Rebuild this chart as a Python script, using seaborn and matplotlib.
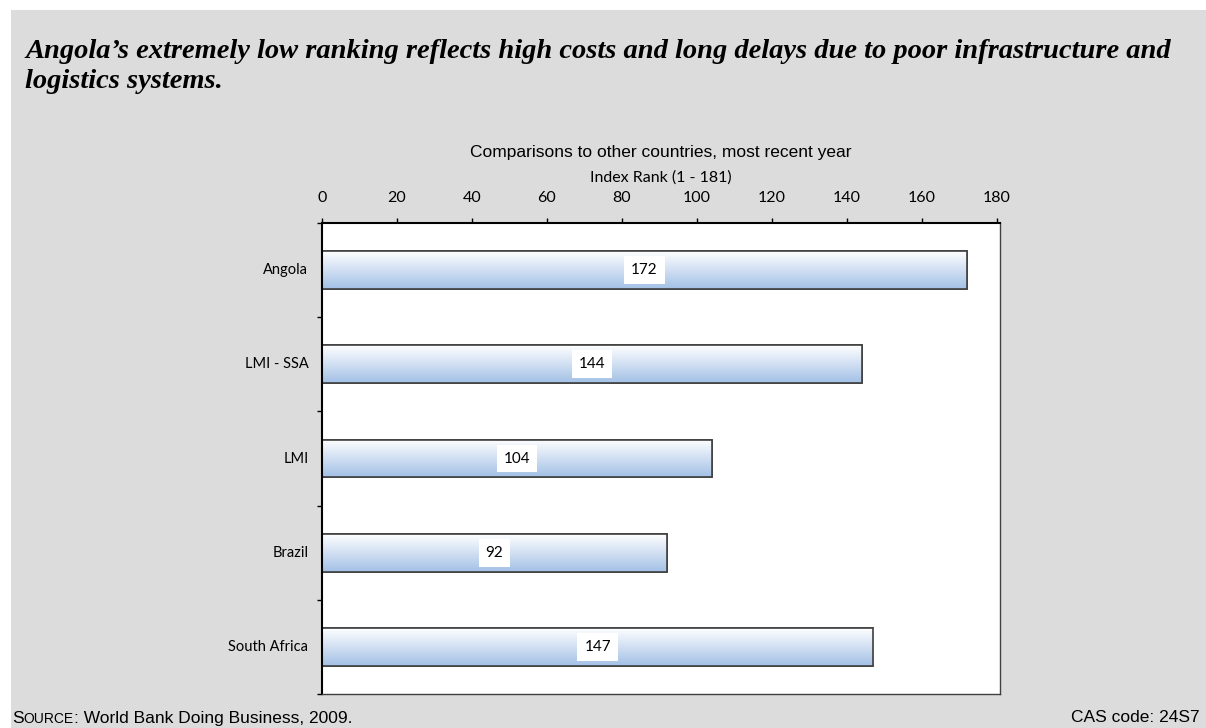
import numpy as np
import pandas as pd
import matplotlib
matplotlib.use("Agg")
import matplotlib.pyplot as plt
import seaborn as sns
from matplotlib.colors import LinearSegmentedColormap

# Chart data
countries = ["Angola", "LMI - SSA", "LMI", "Brazil", "South Africa"]
ranks = [172, 144, 104, 92, 147]
x_ticks = [0, 20, 40, 60, 80, 100, 120, 140, 160, 180]

title = ("Angola\u2019s extremely low ranking reflects high costs and long delays due to poor infrastructure and\n"
         "logistics systems.")
subtitle = "Comparisons to other countries, most recent year"
axis_label = "Index Rank (1 - 181)"
source_text = ": World Bank Doing Business, 2009."
code_text = "CAS code: 24S7"

BG = "#DCDCDC"
TICK_FONT = "Lato"

df = pd.DataFrame({"country": countries, "rank": ranks})


def main():
    sns.set_style("white")
    # seaborn greys the text; the reference uses plain black
    plt.rcParams.update({"text.color": "black", "axes.labelcolor": "black",
                         "xtick.color": "black", "ytick.color": "black"})
    fig = plt.figure(figsize=(12.06, 7.28), dpi=100)
    fig.patch.set_facecolor("white")

    # gray panel behind everything (white strip at the top and left edge)
    panel = fig.add_axes([11 / 1206, 0, 1 - 11 / 1206, 1 - 10 / 728], zorder=-10)
    panel.set_facecolor(BG)
    panel.set_xticks([])
    panel.set_yticks([])
    for s in panel.spines.values():
        s.set_visible(False)

    left, right, top, bottom = 322, 1000, 223, 694
    ax = fig.add_axes([left / 1206, 1 - bottom / 728, (right - left) / 1206, (bottom - top) / 728])
    ax.set_facecolor("white")

    sns.barplot(data=df, x="rank", y="country", orient="h", ax=ax,
                color="#A9C4E6", width=0.4, edgecolor="#404040", linewidth=1.2,
                saturation=1)

    # vertical white -> light blue gradient inside each bar
    cmap = LinearSegmentedColormap.from_list("grad", ["#FFFFFF", "#A3C0E6"])
    grad = np.linspace(0, 1, 256).reshape(-1, 1)
    for patch in ax.patches:
        x0, y0 = patch.get_x(), patch.get_y()
        w, h = patch.get_width(), patch.get_height()
        im = ax.imshow(grad, cmap=cmap, aspect="auto",
                       extent=[x0, x0 + w, y0 + h, y0], zorder=patch.get_zorder() + 0.1)
        im.set_clip_path(patch)
        outline = plt.Rectangle((x0, y0), w, h, fill=False, edgecolor="#404040",
                                linewidth=1.2, zorder=patch.get_zorder() + 0.2)
        ax.add_patch(outline)

    # value labels in white boxes at bar midpoints
    for i, v in enumerate(ranks):
        ax.text(v / 2, i, str(v), ha="center", va="center", fontsize=11,
                family=TICK_FONT, zorder=10,
                bbox=dict(boxstyle="square,pad=0.45", facecolor="white", edgecolor="none"))

    ax.set_xlim(0, 180.8)
    ax.set_ylim(len(countries) - 0.5, -0.5)
    ax.set_xticks(x_ticks)
    ax.xaxis.tick_top()
    ax.xaxis.set_label_position("top")
    ax.set_xlabel(axis_label, fontsize=11.5, family=TICK_FONT, labelpad=7)
    ax.set_ylabel("")
    ax.tick_params(axis="x", length=3.5, width=1, direction="out", pad=9.5,
                   labelsize=11.5, top=True, bottom=False)
    for lbl in ax.get_xticklabels():
        lbl.set_family(TICK_FONT)

    # y ticks sit between the categories; names are placed at the bar centres
    ax.set_yticks(np.arange(-0.5, len(countries), 1.0))
    ax.set_yticklabels([])
    ax.tick_params(axis="y", length=3.5, width=1, direction="out", left=True)
    for i, c in enumerate(countries):
        ax.text(-0.02, i, c, transform=ax.get_yaxis_transform(), ha="right", va="center",
                fontsize=10.5, family=TICK_FONT)

    for side in ["top", "left"]:
        ax.spines[side].set_color("black")
        ax.spines[side].set_linewidth(1.5)
    for side in ["right", "bottom"]:
        ax.spines[side].set_color("#404040")
        ax.spines[side].set_linewidth(1.0)

    # title and other texts
    fig.text(25 / 1206, 1 - 39 / 728, title, ha="left", va="top", fontsize=20.5,
             family="Liberation Serif", weight="bold", style="italic", linespacing=1.25)
    fig.text(661 / 1206, 1 - 153 / 728, subtitle, ha="center", va="center",
             fontsize=12.5, family="Liberation Sans")

    # "SOURCE" in small caps, each piece placed right after the previous one
    t1 = fig.text(12 / 1206, 1 - 726 / 728, "S", ha="left", va="bottom", fontsize=12.5,
                  family="Liberation Sans")
    t2 = plt.annotate("OURCE", xy=(1, 0), xycoords=t1, ha="left", va="bottom",
                      fontsize=10, family="Liberation Sans", annotation_clip=False)
    plt.annotate(source_text, xy=(1, 0), xycoords=t2, ha="left", va="bottom",
                 fontsize=12.5, family="Liberation Sans", annotation_clip=False)
    fig.text(1200 / 1206, 1 - 718 / 728, code_text, ha="right", va="center",
             fontsize=12.5, family="Liberation Sans")

    fig.savefig("out.png", dpi=100, facecolor=fig.get_facecolor())


if __name__ == "__main__":
    main()
